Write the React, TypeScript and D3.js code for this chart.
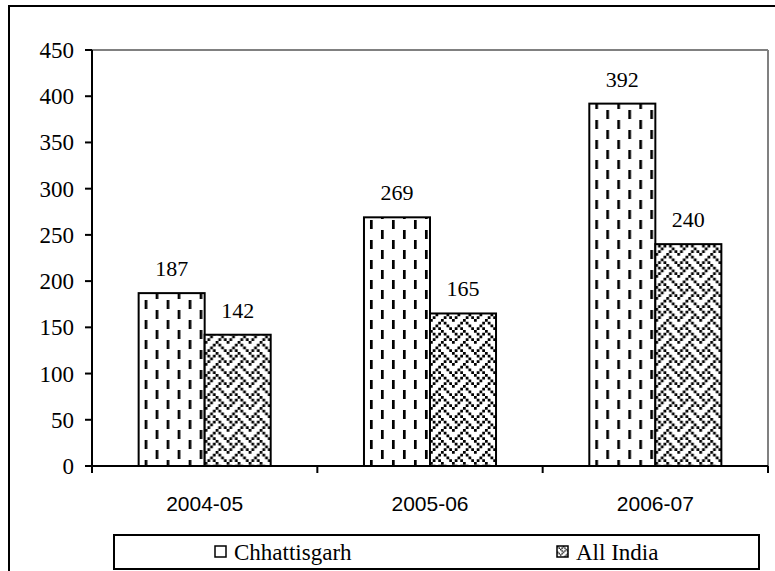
import * as d3 from 'd3';
import React from 'react';

const years = ['2004-05', '2005-06', '2006-07'];
const seriesNames = ['Chhattisgarh', 'All India'];
const chhattisgarh = [187, 269, 392];
const allIndia = [142, 165, 240];
const yTicks = [0, 50, 100, 150, 200, 250, 300, 350, 400, 450];

// 8x8 bit pattern (Excel "weave" fill)
const weaveBits = [0x88, 0x54, 0x22, 0x45, 0x88, 0x14, 0x22, 0x51];

const W = 775;
const H = 571;
const plot = { left: 92, right: 768, top: 50, bottom: 466 };

const bitCells = (bits: number[], s: number) => {
  const cells: { x: number; y: number }[] = [];
  bits.forEach((row, r) => {
    for (let c = 0; c < 8; c++) {
      if (row & (0x80 >> c)) cells.push({ x: c * s, y: r * s });
    }
  });
  return cells;
};

const App: React.FC = () => {
  const x = d3
    .scaleBand<string>()
    .domain(years)
    .range([plot.left, plot.right])
    .paddingInner(0.414)
    .paddingOuter(0.207);
  const xInner = d3.scaleBand<string>().domain(seriesNames).range([0, x.bandwidth()]);
  const y = d3.scaleLinear().domain([0, 450]).range([plot.bottom, plot.top]);

  const rows = years.map((yr, i) => ({ yr, values: [chhattisgarh[i], allIndia[i]] }));
  const fills = ['url(#dashV)', 'url(#weave)'];
  const step = (plot.right - plot.left) / years.length;
  const xTickPos = d3.range(years.length + 1).map((i) => plot.left + i * step);

  const serif = 'Liberation Serif';
  const sans = 'Liberation Sans';

  const s = 2.75;
  const weave = bitCells(weaveBits, s);
  const weaveSmall = bitCells(weaveBits, 1.4);

  return (
    <svg
      width={W}
      height={H}
      style={{ position: 'absolute', left: 0, top: 0, background: '#fff' }}
    >
      <defs>
        <pattern id="dashV" width={22} height={20} patternUnits="userSpaceOnUse">
          <rect width={22} height={20} fill="#fff" />
          <rect x={6} y={0} width={2.7} height={9} fill="#000" />
          <rect x={17} y={10} width={2.7} height={9} fill="#000" />
        </pattern>
        <pattern id="weave" width={8 * s} height={8 * s} patternUnits="userSpaceOnUse">
          <rect width={8 * s} height={8 * s} fill="#fff" />
          {weave.map((c, i) => (
            <rect key={i} x={c.x} y={c.y} width={s} height={s} fill="#000" />
          ))}
        </pattern>
        <pattern id="weaveSmall" width={8 * 1.4} height={8 * 1.4} patternUnits="userSpaceOnUse">
          <rect width={8 * 1.4} height={8 * 1.4} fill="#fff" />
          {weaveSmall.map((c, i) => (
            <rect key={i} x={c.x} y={c.y} width={1.4} height={1.4} fill="#000" />
          ))}
        </pattern>
      </defs>

      {/* outer chart frame (cut off at right and bottom) */}
      <rect x={9} y={6} width={W + 20} height={H + 20} fill="none" stroke="#000" strokeWidth={2} />

      {/* plot area border */}
      <line x1={plot.left} x2={plot.right} y1={plot.top} y2={plot.top} stroke="#808080" strokeWidth={2} />
      <line x1={plot.right} x2={plot.right} y1={plot.top} y2={plot.bottom} stroke="#808080" strokeWidth={2} />

      {/* bars */}
      {rows.map((r) => (
        <g key={r.yr} transform={`translate(${x(r.yr)},0)`}>
          {r.values.map((v, j) => (
            <g key={seriesNames[j]}>
              <rect
                x={xInner(seriesNames[j])}
                y={y(v)}
                width={xInner.bandwidth()}
                height={y(0) - y(v)}
                fill={fills[j]}
                stroke="#000"
                strokeWidth={2}
              />
              <text
                x={(xInner(seriesNames[j]) as number) + xInner.bandwidth() / 2}
                y={y(v) - 17}
                textAnchor="middle"
                fontFamily={serif}
                fontSize={22}
              >
                {v}
              </text>
            </g>
          ))}
        </g>
      ))}

      {/* y axis */}
      <line x1={plot.left} x2={plot.left} y1={plot.top} y2={plot.bottom} stroke="#000" strokeWidth={2} />
      {yTicks.map((t) => (
        <g key={t}>
          <line x1={plot.left - 7} x2={plot.left} y1={y(t)} y2={y(t)} stroke="#000" strokeWidth={2} />
          <text
            x={plot.left - 18}
            y={y(t)}
            dy="0.35em"
            textAnchor="end"
            fontFamily={serif}
            fontSize={23}
          >
            {t}
          </text>
        </g>
      ))}

      {/* x axis */}
      <line x1={plot.left} x2={plot.right} y1={plot.bottom} y2={plot.bottom} stroke="#000" strokeWidth={2} />
      {xTickPos.map((p, i) => (
        <line key={i} x1={p} x2={p} y1={plot.bottom} y2={plot.bottom + 7} stroke="#000" strokeWidth={2} />
      ))}
      {years.map((yr) => (
        <text
          key={yr}
          x={(x(yr) as number) + x.bandwidth() / 2}
          y={plot.bottom + 45}
          textAnchor="middle"
          fontFamily={sans}
          fontSize={21}
        >
          {yr}
        </text>
      ))}

      {/* legend */}
      <rect x={114} y={535} width={645} height={34} fill="#fff" stroke="#000" strokeWidth={2} />
      {seriesNames.map((name, i) => {
        const lx = [215, 557][i];
        return (
          <g key={name}>
            <rect
              x={lx}
              y={546}
              width={11}
              height={11}
              fill={i === 0 ? '#fff' : 'url(#weaveSmall)'}
              stroke="#000"
              strokeWidth={1.5}
            />
            <text x={lx + 19} y={560} fontFamily={serif} fontSize={23}>
              {name}
            </text>
          </g>
        );
      })}
    </svg>
  );
};

export default App;
